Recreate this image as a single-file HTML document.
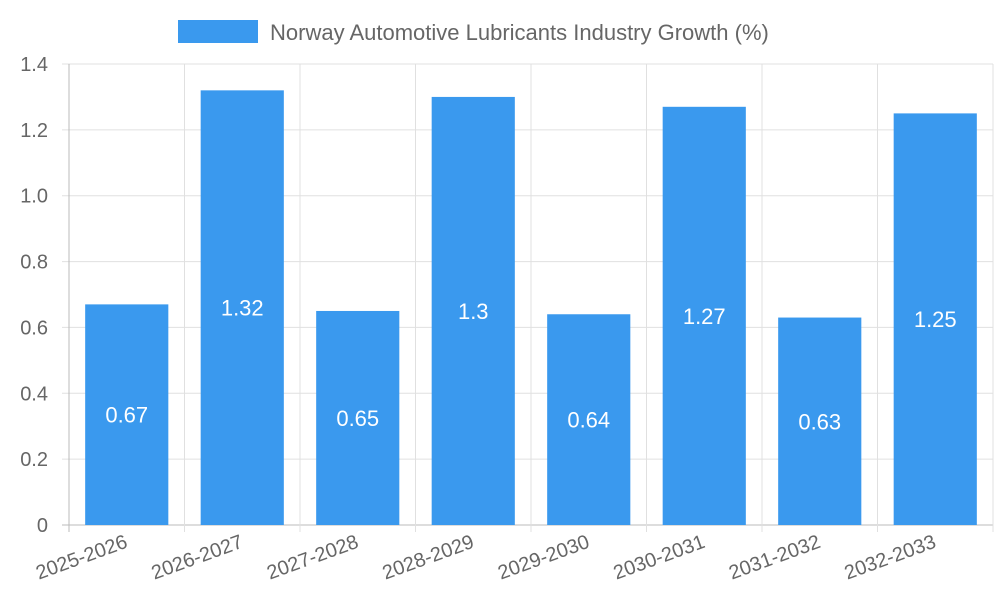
<!DOCTYPE html>
<html><head><meta charset="utf-8"><style>
body{margin:0;background:#fff;}
svg{display:block;font-family:"Liberation Sans",sans-serif;}
</style></head><body>
<svg id="chart" width="1000" height="600" viewBox="0 0 1000 600" xmlns="http://www.w3.org/2000/svg">
<g>
<rect x="178" y="20" width="80" height="23" fill="#3a99ee"/>
<text x="270" y="40" font-size="22" fill="#666">Norway Automotive Lubricants Industry Growth (%)</text>
</g>
<g id="grid"></g><g id="bars"></g><g id="labels"></g>
</svg>
<script>
const categories=["2025-2026","2026-2027","2027-2028","2028-2029","2029-2030","2030-2031","2031-2032","2032-2033"];
const values=[0.67,1.32,0.65,1.3,0.64,1.27,0.63,1.25];
const valueLabels=["0.67","1.32","0.65","1.3","0.64","1.27","0.63","1.25"];
const yTicks=[0,0.2,0.4,0.6,0.8,1.0,1.2,1.4];
const yTickLabels=["0","0.2","0.4","0.6","0.8","1.0","1.2","1.4"];
const NS="http://www.w3.org/2000/svg";
const L=69,R=993,T=64,B=525,yMax=1.4;
const bw=(R-L)/categories.length;
const y=v=>B-(v/yMax)*(B-T);
const xc=i=>L+bw*(i+0.5);
function mk(t,a,p,txt){const e=document.createElementNS(NS,t);for(const k in a)e.setAttribute(k,a[k]);if(txt!=null)e.textContent=txt;p.appendChild(e);return e;}
const g=document.getElementById('grid'),gb=document.getElementById('bars'),gl=document.getElementById('labels');
yTicks.forEach((v,i)=>{
 const ln=mk('line',{x1:L-7,x2:R,y1:y(v),y2:y(v),stroke:i==0?'#bbb':'#e0e0e0','stroke-width':1},g);
 
 
 const t=mk('text',{x:48,y:y(v)+7,'text-anchor':'end','font-size':20,fill:'#666'},g,yTickLabels[i]);
 
 
});
for(let i=0;i<=categories.length;i++){
 const x=L+bw*i;
 const ln=mk('line',{x1:x,x2:x,y1:T,y2:B+7,stroke:i==0?'#bbb':'#e0e0e0','stroke-width':1},g);
 
 
}
categories.forEach((c,i)=>{
 const w=bw*0.72;
 const r=mk('rect',{x:xc(i)-w/2,y:y(values[i]),width:w,height:B-y(values[i]),fill:'#3a99ee'},gb);
 
 
 const t=mk('text',{x:xc(i),y:(y(values[i])+B)/2+8,'text-anchor':'middle','font-size':22,fill:'#fff'},gl,valueLabels[i]);
 
 
 const xl=mk('text',{x:xc(i)+2,y:B+22,'text-anchor':'end','font-size':20,fill:'#666',transform:`rotate(-20 ${xc(i)+2} ${B+22})`},gl,c);
 
 
});
</script>
</body></html>
